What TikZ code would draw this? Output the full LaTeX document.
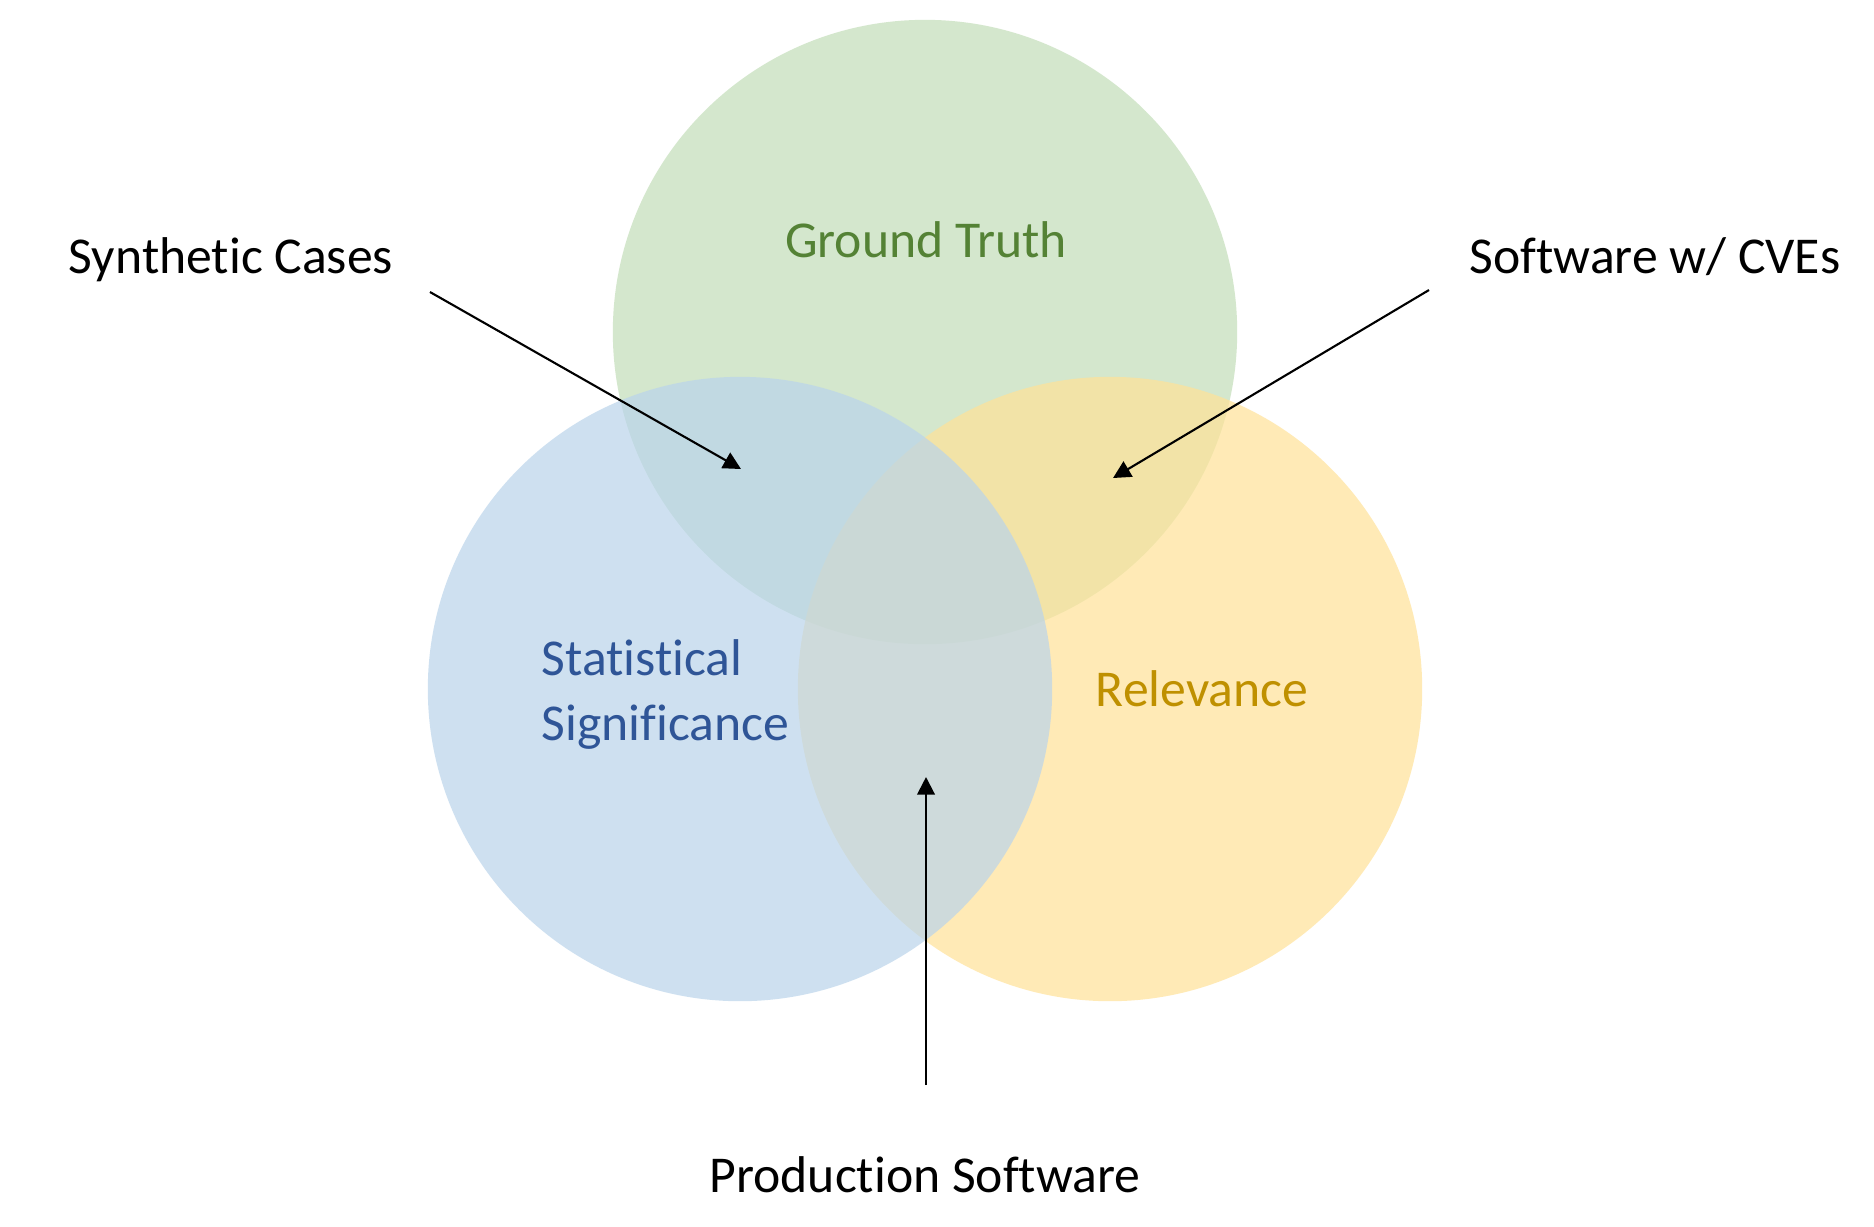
\documentclass[tikz,border=0pt]{standalone}
\usepackage{fontspec}
\setmainfont{Carlito}[Ligatures=NoCommon]
\usetikzlibrary{arrows.meta}
\definecolor{gtfill}{RGB}{195,222,185}
\definecolor{ssfill}{RGB}{186,212,235}
\definecolor{rvfill}{RGB}{255,226,152}
\definecolor{gttext}{RGB}{84,130,53}
\definecolor{sstext}{RGB}{47,85,151}
\definecolor{rvtext}{RGB}{191,144,0}
\tikzset{
  set/.style={circle, minimum size=6.24cm, inner sep=0pt, fill opacity=0.7},
  lbl/.style={font=\fontsize{14.7}{18.4}\selectfont, inner sep=0pt},
  pointer/.style={-{Triangle[length=5pt,width=5pt]}, line width=0.6pt}
}
\begin{document}
\begin{tikzpicture}[x=0.01cm,y=-0.01cm]
      \fill[white] (0,0) rectangle (1874,1226);
      \useasboundingbox (0,0) rectangle (1874,1226);
      % the three sets
      \node[set, fill=gtfill] (gt) at (925,332) {};
      \node[set, fill=rvfill] (rv) at (1110,689) {};
      \node[set, fill=ssfill] (ss) at (740,689) {};
      % set names
      \node[lbl, text=gttext, anchor=base] (gtname) at (926,257) {Ground Truth};
      \node[lbl, text=rvtext, anchor=base] (rvname) at (1202,706) {Relevance};
      \node[lbl, text=sstext, align=left, anchor=base west] (ssname) at (541,740) {Statistical\\Significance};
      % sources
      \node[lbl, anchor=base] (synth) at (231,273) {Synthetic Cases};
      \node[lbl, anchor=base] (cves) at (1655,273) {Software w/ CVEs};
      \node[lbl, anchor=base] (prod) at (925,1192) {Production Software};
      \coordinate (synthfrom) at (430,292);
      \coordinate (synthto) at (741,469);
      \coordinate (cvesfrom) at (1429,290);
      \coordinate (cvesto) at (1113,478);
      \coordinate (prodfrom) at (926,1085);
      \coordinate (prodto) at (926,777);
      \begin{scope}[pointer]
        \draw (synthfrom) to (synthto);
        \draw (cvesfrom) to (cvesto);
        \draw (prodfrom) to (prodto);
      \end{scope}
    \end{tikzpicture}
\end{document}
